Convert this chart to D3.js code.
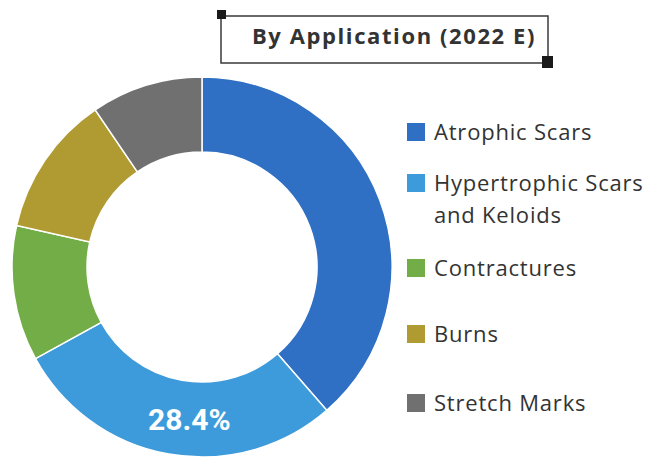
<!DOCTYPE html>
<html>
<head>
<meta charset="utf-8">
<script src="https://cdn.jsdelivr.net/npm/d3@7"></script>
<style>
  body { margin: 0; background: #fff; }
  svg { display: block; }
</style>
</head>
<body>
<svg width="649" height="457"></svg>
<script>
var categories = ["Atrophic Scars", "Hypertrophic Scars and Keloids", "Contractures", "Burns", "Stretch Marks"];
var shares = [38.6, 28.4, 11.5, 12.0, 9.5];
var colors = ["#2f6fc4", "#3d9bdb", "#72ad47", "#b09b32", "#707070"];
var legendLines = [["Atrophic Scars"], ["Hypertrophic Scars", "and Keloids"], ["Contractures"], ["Burns"], ["Stretch Marks"]];
var labelled = ["Hypertrophic Scars and Keloids"];
var title = "By Application (2022 E)";

var svg = d3.select("svg");
var cx = 202, cy = 267, outerR = 190, innerR = 115;

var data = categories.map(function(c, i) { return {name: c, value: shares[i]}; });

var color = d3.scaleOrdinal().domain(categories).range(colors);
var pie = d3.pie().sort(null).value(function(d) { return d.value; });
var arc = d3.arc().innerRadius(innerR).outerRadius(outerR);

var g = svg.append("g").attr("transform", `translate(${cx},${cy})`);

g.selectAll(".slice")
    .data(pie(data))
    .enter().append("path")
    .attr("class", "slice")
    .attr("d", arc)
    .attr("fill", function(d) { return color(d.data.name); })
    .attr("stroke", "#fff")
    .attr("stroke-width", 1.5);

// percentage label on the hypertrophic slice
g.selectAll(".pct")
    .data(pie(data).filter(function(d) { return labelled.indexOf(d.data.name) >= 0; }))
    .enter().append("text")
    .attr("class", "pct")
    .attr("transform", function(d) {
        var p = arc.centroid(d);
        return `translate(${p[0] + 14},${p[1] + 13})`;
    })
    .attr("text-anchor", "middle")
    .style("font-family", "Roboto, sans-serif")
    .style("font-weight", "bold")
    .style("font-size", "30px")
    .attr("fill", "#fff")
    .text(function(d) { return d.data.value.toFixed(1) + "%"; });

// title box
var tb = {x: 221, y: 16, w: 327, h: 47};
svg.append("rect")
    .attr("x", tb.x).attr("y", tb.y)
    .attr("width", tb.w).attr("height", tb.h)
    .attr("fill", "#fff")
    .attr("stroke", "#3a3a3a")
    .attr("stroke-width", 1.5);
svg.append("rect")
    .attr("x", tb.x - 4).attr("y", tb.y - 6)
    .attr("width", 9).attr("height", 9)
    .attr("fill", "#1a1a1a");
svg.append("rect")
    .attr("x", tb.x + tb.w - 6).attr("y", tb.y + tb.h - 7)
    .attr("width", 11).attr("height", 12)
    .attr("fill", "#1a1a1a");
svg.append("text")
    .attr("x", 394)
    .attr("y", tb.y + 28)
    .attr("text-anchor", "middle")
    .style("font-family", "'Open Sans', sans-serif")
    .style("font-weight", "bold")
    .style("font-size", "22px")
    .style("letter-spacing", "1.6px")
    .attr("fill", "#333")
    .text(title);

// legend
var legendY = [132, 183, 268, 334, 403];
var legend = svg.selectAll(".legend")
    .data(categories)
    .enter().append("g")
    .attr("class", "legend")
    .attr("transform", function(d, i) { return `translate(407,${legendY[i]})`; });

legend.append("rect")
    .attr("x", 0).attr("y", -9)
    .attr("width", 18).attr("height", 18)
    .attr("fill", color);

legend.append("text")
    .attr("x", 27)
    .attr("y", 8)
    .style("font-family", "'Open Sans', sans-serif")
    .style("font-size", "22px")
    .style("letter-spacing", "0.8px")
    .attr("fill", "#333")
    .selectAll("tspan")
    .data(function(d, i) { return legendLines[i]; })
    .enter().append("tspan")
    .attr("x", 27)
    .attr("dy", function(d, i) { return i === 0 ? 0 : 32; })
    .text(function(d) { return d; });
</script>
</body>
</html>
